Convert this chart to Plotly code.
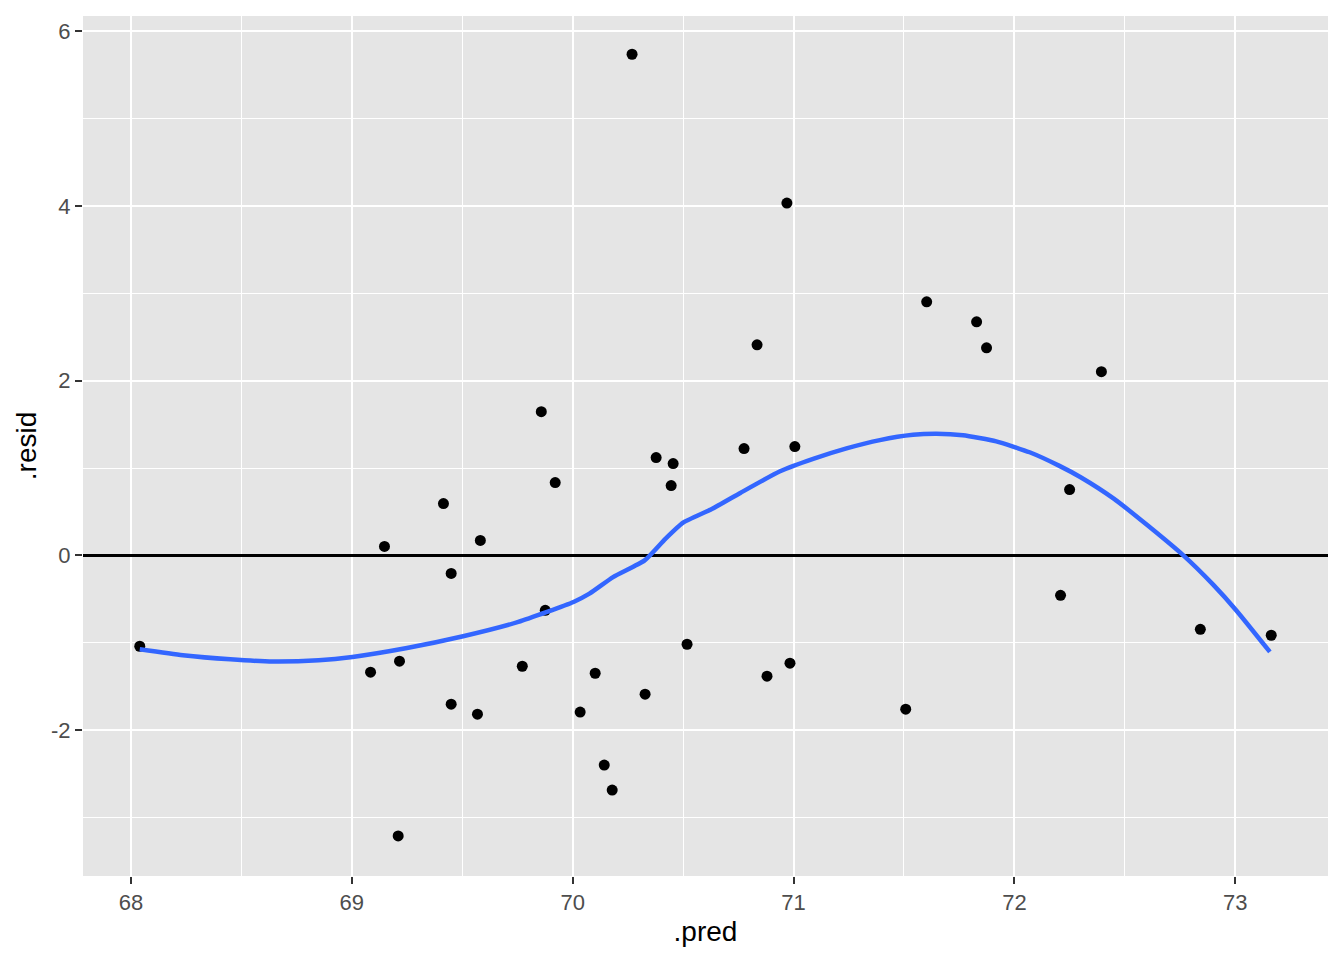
import plotly.graph_objects as go

pred = [68.04, 69.085, 69.148, 69.216, 69.21, 69.415, 69.45, 69.45, 69.569, 69.582,
        69.772, 69.858, 69.876, 69.921, 70.034, 70.102, 70.143, 70.179, 70.269, 70.328,
        70.378, 70.446, 70.455, 70.518, 70.776, 70.835, 70.88, 70.97, 70.984, 71.006,
        71.508, 71.603, 71.829, 71.874, 72.209, 72.25, 72.394, 72.842, 73.163]
resid = [-1.04, -1.337, 0.103, -1.211, -3.211, 0.594, -0.206, -1.703, -1.817, 0.171,
         -1.269, 1.646, -0.629, 0.834, -1.794, -1.349, -2.4, -2.686, 5.737, -1.589,
         1.12, 0.8, 1.051, -1.017, 1.223, 2.411, -1.383, 4.034, -1.234, 1.246,
         -1.76, 2.903, 2.674, 2.377, -0.457, 0.754, 2.103, -0.846, -0.914]

smooth_x = [68.04, 68.235, 68.45, 68.645, 68.85, 69.003, 69.25, 69.504, 69.754, 70.004,
            70.076, 70.183, 70.326, 70.42, 70.5, 70.63, 70.759, 70.939, 71.089, 71.24,
            71.391, 71.541, 71.647, 71.767, 71.918, 72.069, 72.204, 72.30, 72.45, 72.60,
            72.765, 72.9, 73.005, 73.157]
smooth_y = [-1.075, -1.143, -1.19, -1.215, -1.2, -1.162, -1.06, -0.926, -0.762, -0.533,
            -0.438, -0.248, -0.057, 0.19, 0.375, 0.53, 0.715, 0.963, 1.105, 1.225,
            1.32, 1.38, 1.392, 1.375, 1.306, 1.181, 1.025, 0.895, 0.65, 0.35,
            0.0, -0.335, -0.63, -1.105]

x_ticks = [68, 69, 70, 71, 72, 73]
y_ticks = [-2, 0, 2, 4, 6]

fig = go.Figure()
fig.add_trace(go.Scatter(x=pred, y=resid, mode="markers",
                         marker=dict(color="black", size=11), showlegend=False))
fig.add_trace(go.Scatter(x=smooth_x, y=smooth_y, mode="lines",
                         line=dict(color="#3366FF", width=4.5, shape="spline", smoothing=0.5),
                         showlegend=False))

font = "Liberation Sans, Arial, Helvetica, sans-serif"
fig.update_layout(
    width=1344, height=960,
    margin=dict(l=75, r=24, t=8, b=92),
    paper_bgcolor="white",
    plot_bgcolor="#E5E5E5",
    font=dict(family=font),
    xaxis=dict(
        range=[67.783, 73.42], tickvals=x_ticks, ticktext=[str(v) for v in x_ticks],
        showgrid=True, gridcolor="white", gridwidth=2,
        minor=dict(dtick=0.5, tick0=67.5, showgrid=True, gridcolor="white", gridwidth=1, ticks=""),
        zeroline=False, showline=False,
        ticks="outside", ticklen=7, tickwidth=2, tickcolor="#333333",
        tickfont=dict(size=22, color="#4D4D4D", family=font),
        title=dict(text=".pred", font=dict(size=28, color="black", family=font), standoff=6),
    ),
    yaxis=dict(
        range=[-3.67, 6.175], tickvals=y_ticks, ticktext=[str(v) for v in y_ticks],
        showgrid=True, gridcolor="white", gridwidth=2,
        minor=dict(dtick=1, tick0=-3, showgrid=True, gridcolor="white", gridwidth=1, ticks=""),
        zeroline=True, zerolinecolor="black", zerolinewidth=2.5, showline=False,
        ticks="outside", ticklen=7, tickwidth=2, tickcolor="#333333",
        tickfont=dict(size=22, color="#4D4D4D", family=font),
        title=dict(text=".resid", font=dict(size=28, color="black", family=font), standoff=6),
    ),
)

fig.write_html("out.html")
